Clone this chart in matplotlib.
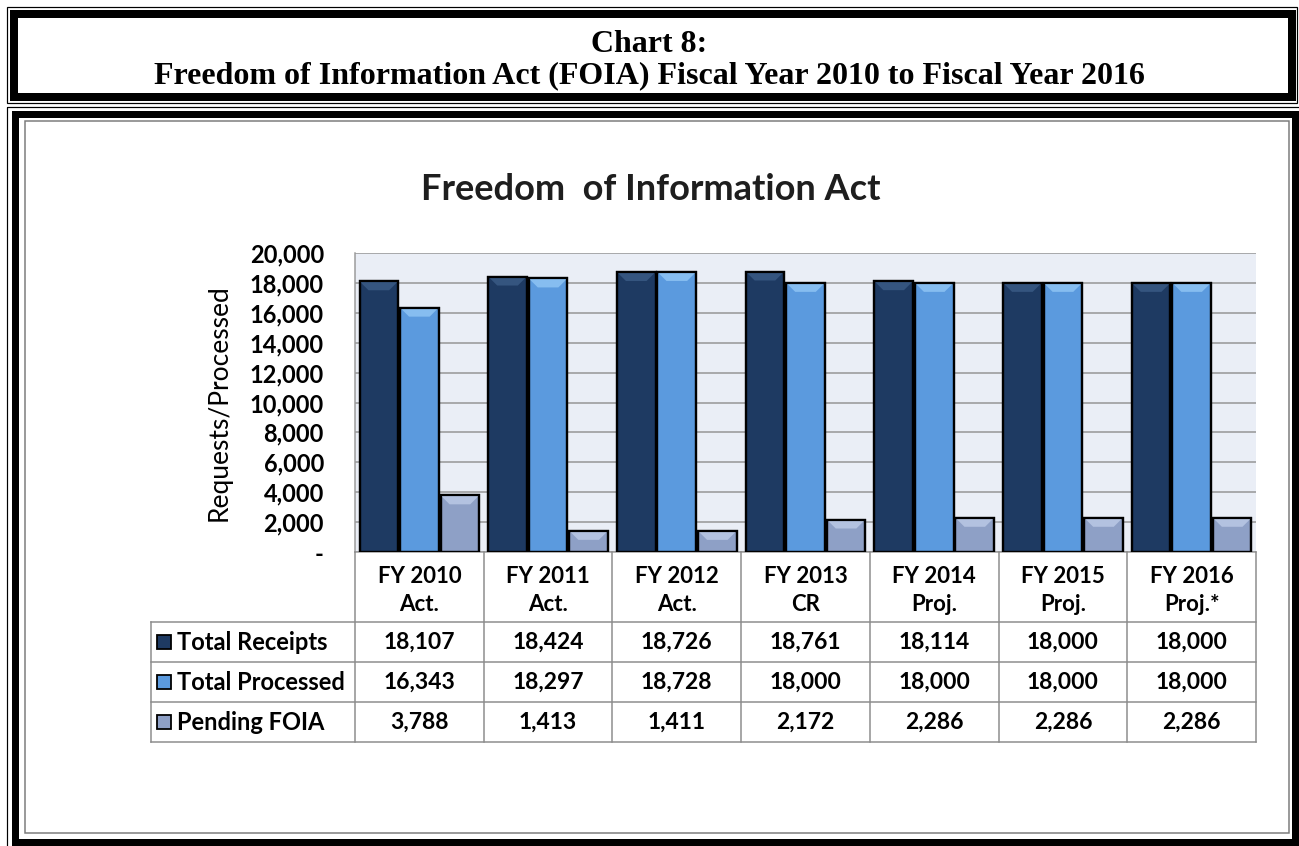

# FOIA chart 8 - receipts / processed / pending, FY2010 to FY2016

import numpy as np
import matplotlib.pyplot as plt
from matplotlib.patches import Rectangle, Polygon


# Data
years = ['FY 2010', 'FY 2011', 'FY 2012', 'FY 2013', 'FY 2014', 'FY 2015', 'FY 2016']
status = ['Act.', 'Act.', 'Act.', 'CR', 'Proj.', 'Proj.', 'Proj.*']
series = ['Total Receipts', 'Total Processed', 'Pending FOIA']
receipts = [18107, 18424, 18726, 18761, 18114, 18000, 18000]
processed = [16343, 18297, 18728, 18000, 18000, 18000, 18000]
pending = [3788, 1413, 1411, 2172, 2286, 2286, 2286]
yticks = [0, 2000, 4000, 6000, 8000, 10000, 12000, 14000, 16000, 18000, 20000]

colors = ['#1e3a62', '#5b9ade', '#8ea0c6']
tops = ['#35557f', '#86bdf0', '#b3c2e0']

W, H = 1299, 846
FONT = 'Lato'


def px(v):
    return v * 72 / 100  # pixels -> points at dpi 100


fig = plt.figure(figsize=(W / 100, H / 100), dpi=100)

# page frame (pixel coordinates)
deco = fig.add_axes([0, 0, 1, 1])
deco.set_xlim(0, W)
deco.set_ylim(H, 0)
deco.axis('off')
deco.add_patch(Rectangle((7, 7), 1290, 96, fill=False, lw=px(1.2), ec='black'))
deco.add_patch(Rectangle((14, 14), 1278, 83, fill=False, lw=px(8), ec='black'))
deco.add_patch(Rectangle((7, 107), 1296, 760, fill=False, lw=px(1.2), ec='black'))
deco.add_patch(Rectangle((15, 114), 1280, 728, fill=False, lw=px(7), ec='black'))
deco.add_patch(Rectangle((25, 121), 1264, 712, fill=False, lw=px(1.5), ec='#7a7a7a'))
deco.text(W / 2, 45, 'Chart 8:', ha='center', va='center', fontsize=23,
          fontweight='bold', family='Liberation Serif')
deco.text(W / 2, 76, 'Freedom of Information Act (FOIA) Fiscal Year 2010 to Fiscal Year 2016',
          ha='center', va='center', fontsize=23, fontweight='bold', family='Liberation Serif')
deco.text(651, 190, 'Freedom  of Information Act', ha='center', va='center',
          fontsize=26, fontweight='bold', family=FONT, color='#1e1e1e')

# chart area
L, R, T, B = 355, 1256, 253, 552
ax = fig.add_axes([L / W, 1 - B / H, (R - L) / W, (B - T) / H])
ax.set_facecolor('#eaeef6')
x = np.arange(len(years))
bw = 0.30
offs = [-0.315, 0, 0.315]
data = [receipts, processed, pending]
for vals, off, c, tc in zip(data, offs, colors, tops):
    ax.bar(x + off, vals, bw, color=c, edgecolor='black', linewidth=px(2.2), zorder=3)
    # soft bevel at the top of every bar
    for xi, v in zip(x + off, vals):
        h = 600
        ins = 0.07
        poly = Polygon([[xi - bw / 2, v], [xi + bw / 2, v],
                        [xi + bw / 2 - ins, v - h], [xi - bw / 2 + ins, v - h]],
                       closed=True, fc=tc, ec='none', zorder=4)
        ax.add_patch(poly)
        ax.bar(xi, v, bw, fill=False, edgecolor='black', linewidth=px(2.2), zorder=5)

ax.set_xlim(-0.5, len(years) - 0.5)
ax.set_ylim(0, 20000)
ax.set_yticks(yticks)
ax.set_yticklabels(['-' if t == 0 else f'{t:,}' for t in yticks],
                   fontsize=17, fontweight='bold', family=FONT)
ax.tick_params(axis='y', length=0, pad=px(31))
ax.tick_params(axis='x', length=0, labelbottom=False)
ax.yaxis.grid(True, color='#9a9a9a', linewidth=px(1.6), zorder=0)
ax.set_axisbelow(True)
for s in ['top', 'right']:
    ax.spines[s].set_visible(False)
ax.spines['left'].set_color('#9a9a9a')
ax.spines['bottom'].set_color('#9a9a9a')
ax.spines['left'].set_linewidth(px(1.5))
ax.spines['bottom'].set_linewidth(px(1.5))
ax.set_ylabel('Requests/Processed', fontsize=19, family=FONT)
ax.yaxis.set_label_coords((232 - L) / (R - L), 0.5)

# data table under the chart
TL, TB = 151, 742
cw = (R - L) / len(years)
tb = fig.add_axes([TL / W, 1 - TB / H, (R - TL) / W, (TB - B) / H])
tb.set_xlim(-0.5 - (L - TL) / cw, len(years) - 0.5)
tb.set_ylim(TB - B, 0)
tb.axis('off')
xl = -0.5 - (L - TL) / cw
rows = [70, 110, 150, 190]
lc = '#8c8c8c'
lw = px(1.5)
for k in range(len(years) + 1):
    tb.plot([k - 0.5, k - 0.5], [0, 190], color=lc, lw=lw, clip_on=False)
tb.plot([xl, xl], [70, 190], color=lc, lw=lw, clip_on=False)
for r in rows:
    tb.plot([xl, len(years) - 0.5], [r, r], color=lc, lw=lw, clip_on=False)

for i in range(len(years)):
    tb.text(i, 24, years[i], ha='center', va='center', fontsize=16,
            fontweight='bold', family=FONT)
    tb.text(i, 52, status[i], ha='center', va='center', fontsize=16,
            fontweight='bold', family=FONT)

for j, (name, vals) in enumerate(zip(series, data)):
    yc = (rows[j] + rows[j + 1]) / 2
    tb.add_patch(Rectangle((xl + 6 / cw, yc - 7), 14 / cw, 14, fc=colors[j],
                           ec='black', lw=px(1.8), clip_on=False))
    tb.text(xl + 26 / cw, yc, name, ha='left', va='center', fontsize=17,
            fontweight='bold', family=FONT)
    for i, v in enumerate(vals):
        tb.text(i, yc, f'{v:,}', ha='center', va='center', fontsize=16.5,
                fontweight='bold', family=FONT)

fig.savefig('out.png', dpi=100)
